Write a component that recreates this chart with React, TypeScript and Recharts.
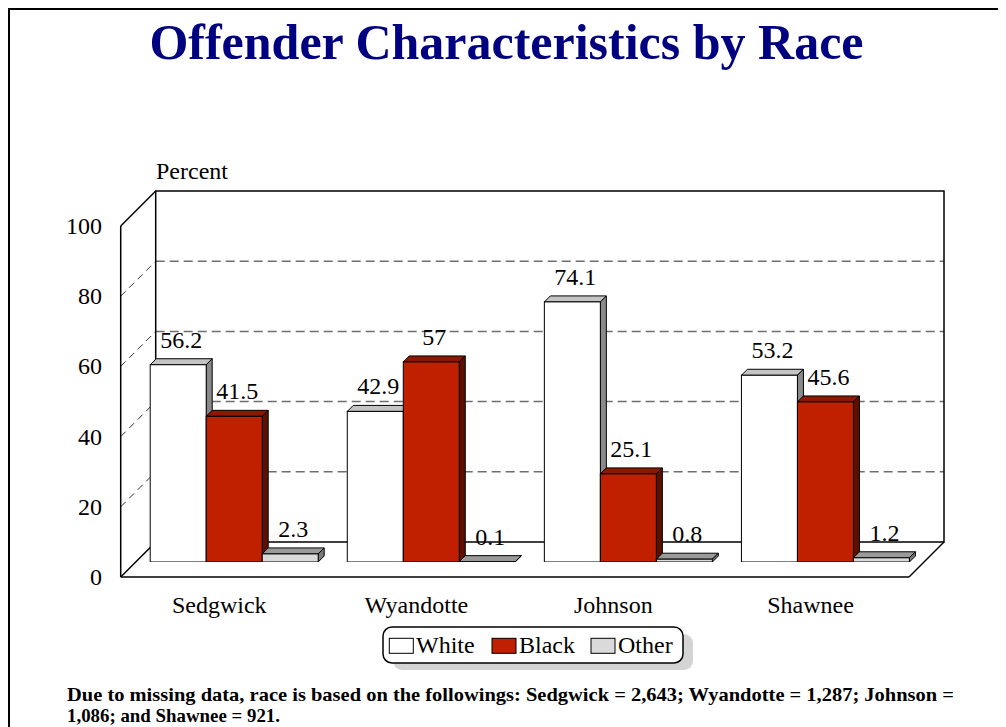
import React from 'react';
import { BarChart, Bar, XAxis, YAxis, CartesianGrid, LabelList, Customized } from 'recharts';

const categories = ['Sedgwick', 'Wyandotte', 'Johnson', 'Shawnee'];
const whiteValues = [56.2, 42.9, 74.1, 53.2];
const blackValues = [41.5, 57, 25.1, 45.6];
const otherValues = [2.3, 0.1, 0.8, 1.2];
const yTicks = [0, 20, 40, 60, 80, 100];
const seriesNames = ['White', 'Black', 'Other'];

const data = categories.map((c, i) => ({
  name: c,
  White: whiteValues[i],
  Black: blackValues[i],
  Other: otherValues[i],
}));

const FONT = "'Liberation Serif', 'Times New Roman', serif";
const W = 998;
const H = 719;
const L = 127.7;
const R = 916;
const T = 203;
const B = 554;
const FX = -15; // front offset
const FY = 15;
const BX = 20; // back offset
const BY = -20;
const DEPTH = 6;

const COLORS: Record<string, { front: string; top: string; side: string }> = {
  White: { front: '#ffffff', top: '#c4c4c4', side: '#8a8a8a' },
  Black: { front: '#c02000', top: '#8c1800', side: '#5e1000' },
  Other: { front: '#dadada', top: '#9a9a9a', side: '#7a7a7a' },
};

const make3D = (key: string) => (props: any) => {
  const { x, y, width, height } = props;
  const c = COLORS[key];
  const d = DEPTH;
  const h = Math.max(height, 0);
  return (
    <g>
      <polygon
        points={`${x},${y} ${x + d},${y - d} ${x + width + d},${y - d} ${x + width},${y}`}
        fill={c.top}
        stroke="#000"
        strokeWidth={1}
      />
      <polygon
        points={`${x + width},${y} ${x + width + d},${y - d} ${x + width + d},${y + h - d} ${x + width},${y + h}`}
        fill={c.side}
        stroke="#000"
        strokeWidth={1}
      />
      <rect x={x} y={y} width={width} height={h} fill={c.front} stroke="#000" strokeWidth={1} />
    </g>
  );
};

const valueLabel = (props: any) => {
  const { x, y, width, value } = props;
  return (
    <text
      x={x + width / 2 + 3}
      y={y - 17}
      textAnchor="middle"
      fontFamily={FONT}
      fontSize={24}
      fill="#000"
    >
      {String(value)}
    </text>
  );
};

const gridLine = (props: any) => {
  const { y1, x1, x2 } = props;
  const inner = y1 > T + 1 && y1 < B - 1;
  if (!inner) return <g key={props.key} />;
  return (
    <g key={props.key}>
      <line
        x1={x1 + BX}
        y1={y1 + BY}
        x2={x2 + BX}
        y2={y1 + BY}
        stroke="#6e6e6e"
        strokeWidth={1.5}
        strokeDasharray="9 5"
      />
      <line
        x1={x1 + FX}
        y1={y1 + FY}
        x2={x1 + BX}
        y2={y1 + BY}
        stroke="#333"
        strokeWidth={1}
        strokeDasharray="7 5"
      />
    </g>
  );
};

const Frame = () => {
  const s = '#000';
  const sw = 1.5;
  return (
    <g>
      {/* page border */}
      <line x1={1} y1={1} x2={W} y2={1} stroke="#000" strokeWidth={2} />
      <line x1={1} y1={0} x2={1} y2={H} stroke="#000" strokeWidth={2} />
      {/* back wall */}
      <rect x={L + BX} y={T + BY} width={R - L} height={B - T} fill="none" stroke={s} strokeWidth={sw} />
      {/* left wall */}
      <line x1={L + FX} y1={T + FY} x2={L + FX} y2={B + FY} stroke={s} strokeWidth={sw} />
      <line x1={L + FX} y1={T + FY} x2={L + BX} y2={T + BY} stroke={s} strokeWidth={sw} />
      <line x1={L + FX} y1={B + FY} x2={L + BX} y2={B + BY} stroke={s} strokeWidth={sw} />
      {/* floor */}
      <line x1={L + FX} y1={B + FY} x2={R + FX} y2={B + FY} stroke={s} strokeWidth={sw} />
      <line x1={R + FX} y1={B + FY} x2={R + BX} y2={B + BY} stroke={s} strokeWidth={sw} />
    </g>
  );
};

const Decorations = () => {
  const legendX = 375;
  const legendY = 619;
  const items = [
    { name: seriesNames[0], sx: 381.3, tx: 408 },
    { name: seriesNames[1], sx: 484, tx: 511 },
    { name: seriesNames[2], sx: 583, tx: 610 },
  ];
  return (
    <g>
      <text
        x={498.5}
        y={51}
        textAnchor="middle"
        fontFamily={FONT}
        fontWeight="bold"
        fontSize={50}
        fill="#000080"
      >
        Offender Characteristics by Race
      </text>
      <text x={148} y={171} fontFamily={FONT} fontSize={24} fill="#000">
        Percent
      </text>
      <rect x={legendX + 10} y={legendY + 7} width={300} height={36} rx={9} fill="#d4d4d4" />
      <rect
        x={legendX}
        y={legendY}
        width={300}
        height={36}
        rx={9}
        fill="#fff"
        stroke="#000"
        strokeWidth={1.5}
      />
      {items.map((it) => (
        <g key={it.name}>
          <rect
            x={it.sx}
            y={legendY + 11.3}
            width={24}
            height={15}
            fill={COLORS[it.name].front}
            stroke="#000"
            strokeWidth={1}
          />
          <text x={it.tx} y={legendY + 26} fontFamily={FONT} fontSize={24} fill="#000">
            {it.name}
          </text>
        </g>
      ))}
      <text
        x={59}
        y={693}
        fontFamily={FONT}
        fontWeight="bold"
        fontSize={19}
        fill="#000"
        textLength={887}
        lengthAdjust="spacingAndGlyphs"
      >
        Due to missing data, race is based on the followings: Sedgwick = 2,643; Wyandotte = 1,287; Johnson =
      </text>
      <text
        x={59}
        y={713.5}
        fontFamily={FONT}
        fontWeight="bold"
        fontSize={19}
        fill="#000"
        textLength={213}
        lengthAdjust="spacingAndGlyphs"
      >
        1,086; and Shawnee = 921.
      </text>
    </g>
  );
};

const YTick = (props: any) => {
  const { y, payload } = props;
  return (
    <text x={94} y={y + FY + 8} textAnchor="end" fontFamily={FONT} fontSize={24} fill="#000">
      {payload.value}
    </text>
  );
};

const XTick = (props: any) => {
  const { x, payload } = props;
  return (
    <text x={x + FX} y={B + 51} textAnchor="middle" fontFamily={FONT} fontSize={24} fill="#000">
      {payload.value}
    </text>
  );
};

export default function App() {
  return (
    <div style={{ width: W, height: H, background: '#fff' }}>
      <BarChart
        width={W}
        height={H}
        data={data}
        margin={{ top: T, right: W - R, bottom: H - B - 30, left: L - 60 }}
        barGap={0}
        barCategoryGap={14.5}
      >
        <Customized component={Frame} />
        <CartesianGrid vertical={false} horizontal={gridLine} stroke="none" />
        <XAxis
          dataKey="name"
          height={30}
          axisLine={false}
          tickLine={false}
          tick={<XTick />}
          interval={0}
        />
        <YAxis
          width={60}
          domain={[0, 100]}
          ticks={yTicks}
          axisLine={false}
          tickLine={false}
          tick={<YTick />}
          allowDataOverflow
        />
        <Bar dataKey="White" shape={make3D('White')} isAnimationActive={false}>
          <LabelList dataKey="White" content={valueLabel} />
        </Bar>
        <Bar dataKey="Black" shape={make3D('Black')} isAnimationActive={false}>
          <LabelList dataKey="Black" content={valueLabel} />
        </Bar>
        <Bar dataKey="Other" shape={make3D('Other')} isAnimationActive={false}>
          <LabelList dataKey="Other" content={valueLabel} />
        </Bar>
        <Customized component={Decorations} />
      </BarChart>
    </div>
  );
}
